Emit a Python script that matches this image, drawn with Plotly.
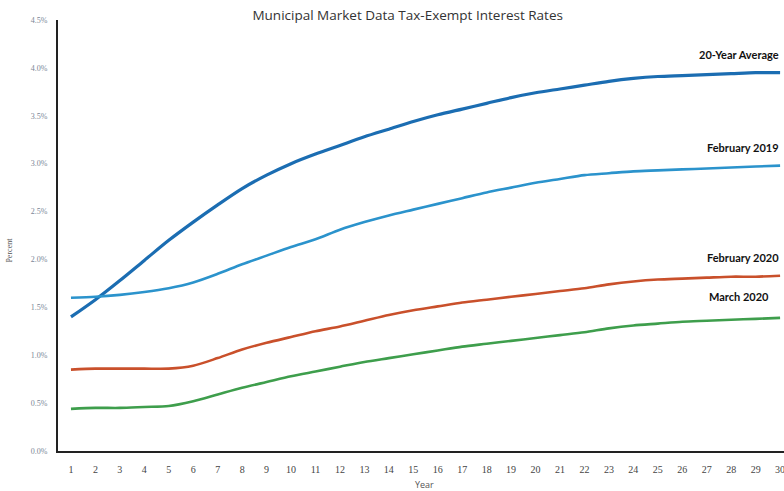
import plotly.graph_objects as go

years = list(range(1, 31))

avg_20yr = [1.40, 1.58, 1.78, 1.99, 2.20, 2.39, 2.57, 2.74, 2.88, 3.00,
            3.10, 3.19, 3.28, 3.36, 3.44, 3.51, 3.57, 3.63, 3.69, 3.74,
            3.78, 3.82, 3.86, 3.89, 3.91, 3.92, 3.93, 3.94, 3.95, 3.95]
feb_2019 = [1.60, 1.61, 1.63, 1.66, 1.70, 1.76, 1.85, 1.95, 2.04, 2.13,
            2.21, 2.31, 2.39, 2.46, 2.52, 2.58, 2.64, 2.70, 2.75, 2.80,
            2.84, 2.88, 2.90, 2.92, 2.93, 2.94, 2.95, 2.96, 2.97, 2.98]
feb_2020 = [0.85, 0.86, 0.86, 0.86, 0.86, 0.89, 0.97, 1.06, 1.13, 1.19,
            1.25, 1.30, 1.36, 1.42, 1.47, 1.51, 1.55, 1.58, 1.61, 1.64,
            1.67, 1.70, 1.74, 1.77, 1.79, 1.80, 1.81, 1.82, 1.82, 1.83]
mar_2020 = [0.44, 0.45, 0.45, 0.46, 0.47, 0.52, 0.59, 0.66, 0.72, 0.78,
            0.83, 0.88, 0.93, 0.97, 1.01, 1.05, 1.09, 1.12, 1.15, 1.18,
            1.21, 1.24, 1.28, 1.31, 1.33, 1.35, 1.36, 1.37, 1.38, 1.39]

y_ticks = [0.0, 0.5, 1.0, 1.5, 2.0, 2.5, 3.0, 3.5, 4.0, 4.5]
y_tick_text = ["0.0%", "0.5%", "1.0%", "1.5%", "2.0%", "2.5%", "3.0%", "3.5%", "4.0%", "4.5%"]

series = [
    ("20-Year Average", avg_20yr, "#1b6db2", 3.2),
    ("February 2019", feb_2019, "#2b93cc", 2.6),
    ("February 2020", feb_2020, "#c9502b", 2.6),
    ("March 2020", mar_2020, "#3e9e4c", 2.6),
]

fig = go.Figure()
for name, vals, color, width in series:
    fig.add_trace(go.Scatter(
        x=years, y=vals, mode="lines", name=name,
        line=dict(color=color, width=width, shape="spline", smoothing=0.8),
        showlegend=False, cliponaxis=False,
    ))

# End-of-curve labels
label_font = dict(family="Lato, 'Open Sans', sans-serif", size=11, color="#111111")
labels = [
    ("20-Year Average", avg_20yr[-1], 30.05, 10, "right"),
    ("February 2019", feb_2019[-1], 30.05, 10, "right"),
    ("February 2020", feb_2020[-1], 30.05, 10, "right"),
    ("March 2020", mar_2020[-1], 28.3, 13, "center"),
]
for text, yv, xv, shift, anchor in labels:
    fig.add_annotation(
        x=xv, y=yv, text="<b>%s</b>" % text, showarrow=False,
        xanchor=anchor, yanchor="bottom", yshift=shift, font=label_font,
    )

fig.add_annotation(
    text="Year", xref="paper", yref="paper", x=0.505, y=0, yshift=-33,
    xanchor="center", yanchor="middle", showarrow=False,
    font=dict(family="Open Sans, sans-serif", size=9, color="#555555"),
)
fig.add_annotation(
    text="Percent", xref="paper", yref="paper", x=0, xshift=-48, y=0.465,
    xanchor="center", yanchor="middle", textangle=-90, showarrow=False,
    font=dict(family="Liberation Serif, serif", size=8, color="#555555"),
)

fig.update_layout(
    width=784, height=491,
    margin=dict(l=58, r=0, t=20, b=40),
    paper_bgcolor="white", plot_bgcolor="white",
    title=dict(
        text="Municipal Market Data Tax-Exempt Interest Rates",
        x=0.52, xanchor="center", y=0.969, yanchor="middle",
        font=dict(family="Open Sans, sans-serif", size=13.5, color="#333333"),
    ),
    xaxis=dict(
        range=[0.47, 30.16], tickmode="array", tickvals=years,
        ticktext=[str(v) for v in years], showgrid=False, zeroline=False,
        showline=True, linecolor="#222222", linewidth=2, ticks="",
        ticklabelstandoff=8, ticklabeloverflow="allow",
        tickfont=dict(family="Liberation Serif, serif", size=10, color="#444444"),
    ),
    yaxis=dict(
        range=[0, 4.5], tickmode="array", tickvals=y_ticks, ticktext=y_tick_text,
        showgrid=False, zeroline=False, showline=True, linecolor="#222222",
        linewidth=2, ticks="", ticklabelstandoff=7,
        tickfont=dict(family="Liberation Serif, serif", size=8, color="#7a8696"),
    ),
)

fig.write_html("out.html")
